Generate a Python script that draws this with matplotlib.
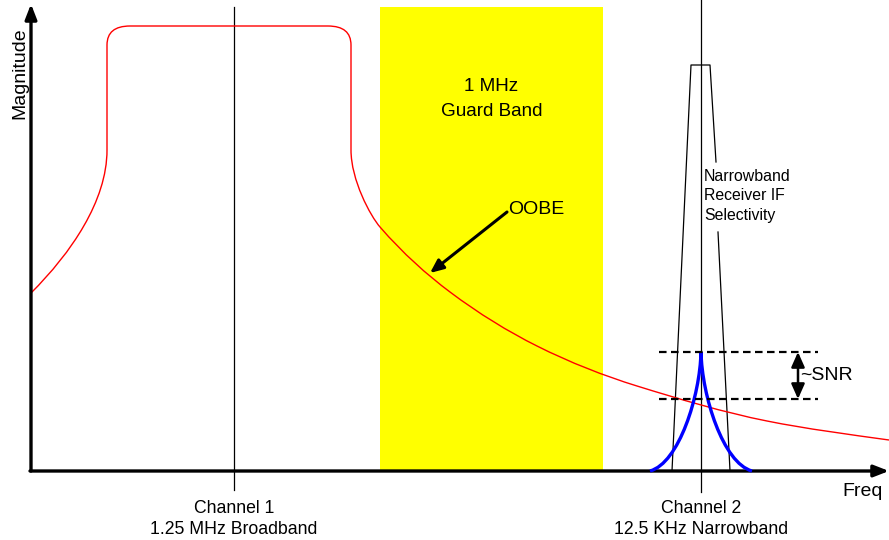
"""Sketch of broadband OOBE falling into a narrowband receiver channel."""
import matplotlib
matplotlib.use("Agg")
import matplotlib.pyplot as plt
from matplotlib.path import Path
from matplotlib.patches import PathPatch

plt.rcParams["font.family"] = ["Liberation Sans", "DejaVu Sans"]

# broadband channel 1 emission: rising skirt, flat top with rounded corners,
# then OOBE tail. Nodes (freq, magnitude).
skirt_freq = [0, 76]
skirt_mag = [178, 321]
top_freq = [76, 99, 297, 320]
top_mag = [426, 445, 445, 426]
tail_freq = [320, 349, 419, 506, 606, 736, 858]
tail_mag = [321, 244, 179, 125, 85, 50, 31]
tail_slope = [None, -1.15, -0.75, -0.5, -0.31, -0.2, -0.14]

# narrowband channel 2 signal (cusp)
blue_freq = [619, 670, 721]
blue_mag = [0, 119, 0]

# receiver IF selectivity trapezoid (right side broken by the label)
if_left_freq = [641, 660, 679, 685]
if_left_mag = [0, 406, 406, 309]
if_right_freq = [687, 699]
if_right_mag = [239, 0]

ch1_freq, ch2_freq = 203, 670
guard_lo, guard_hi = 349, 572
frame_top = 464
sig_level, noise_level = 119, 72
dash_lo, dash_hi = 628, 787
snr_freq = 767


def red_path():
    verts = [(skirt_freq[0], skirt_mag[0]),
             (40, 218), (76, 270), (skirt_freq[1], skirt_mag[1])]
    codes = [Path.MOVETO, Path.CURVE4, Path.CURVE4, Path.CURVE4]
    # vertical edge, rounded corner, flat top, rounded corner, vertical edge
    verts += [(top_freq[0], top_mag[0]),
              (top_freq[0], top_mag[1]), (top_freq[1], top_mag[1]),
              (top_freq[2], top_mag[2]),
              (top_freq[3], top_mag[2]), (top_freq[3], top_mag[3]),
              (tail_freq[0], tail_mag[0])]
    codes += [Path.LINETO, Path.CURVE3, Path.CURVE3, Path.LINETO,
              Path.CURVE3, Path.CURVE3, Path.LINETO]
    for i in range(1, len(tail_freq)):
        x0, y0 = tail_freq[i - 1], tail_mag[i - 1]
        x1, y1 = tail_freq[i], tail_mag[i]
        d = (x1 - x0) / 3
        if tail_slope[i - 1] is None:
            c1 = (x0, y0 - 30)
        else:
            c1 = (x0 + d, y0 + d * tail_slope[i - 1])
        c2 = (x1 - d, y1 - d * tail_slope[i])
        verts += [c1, c2, (x1, y1)]
        codes += [Path.CURVE4] * 3
    return Path(verts, codes)


def blue_path():
    verts = [(blue_freq[0], blue_mag[0]), (648, 8), (669, 75), (blue_freq[1], blue_mag[1]),
             (671, 75), (692, 8), (blue_freq[2], blue_mag[2])]
    codes = [Path.MOVETO] + [Path.CURVE4] * 6
    return Path(verts, codes)


fig = plt.figure(figsize=(8.89, 5.4), dpi=100)
ax = fig.add_axes([0, 0, 1, 1])
ax.set_xlim(-31, 858)
ax.set_ylim(-69, 471)
ax.axis("off")

ax.axvspan(guard_lo, guard_hi, ymin=69 / 540, ymax=(69 + frame_top) / 540,
           color="#ffff00", lw=0, zorder=0)
ax.text((guard_lo + guard_hi) / 2, 372, "1 MHz\nGuard Band", ha="center", va="center",
        fontsize=13.6, linespacing=1.55)

ax.plot([ch1_freq, ch1_freq], [-19, frame_top], color="black", lw=0.9, zorder=2)
ax.plot([ch2_freq, ch2_freq], [-21, 471], color="black", lw=0.9, zorder=2)

ax.add_patch(PathPatch(red_path(), fill=False, edgecolor="red", lw=1.0, zorder=3))
ax.plot(if_left_freq, if_left_mag, color="black", lw=0.9, zorder=2)
ax.plot(if_right_freq, if_right_mag, color="black", lw=0.9, zorder=2)
ax.add_patch(PathPatch(blue_path(), fill=False, edgecolor="#0000ff", lw=2.4, zorder=4))

for lvl in (sig_level, noise_level):
    ax.plot([dash_lo, dash_hi], [lvl, lvl], color="black", lw=1.6,
            dashes=(3.4, 2.0), zorder=5)
ax.annotate("", xy=(snr_freq, noise_level), xytext=(snr_freq, sig_level),
            arrowprops=dict(arrowstyle="<|-|>,head_length=0.9,head_width=0.4",
                            lw=1.8, color="black", shrinkA=0, shrinkB=0))
ax.text(snr_freq + 2, (sig_level + noise_level) / 2, "~SNR", ha="left", va="center",
        fontsize=14)

ax.text(673, 275, "Narrowband\nReceiver IF\nSelectivity", ha="left", va="center",
        fontsize=11.4, linespacing=1.35)

ax.annotate("", xy=(399, 198), xytext=(476, 259),
            arrowprops=dict(arrowstyle="-|>,head_length=0.8,head_width=0.35",
                            lw=2.2, color="black", shrinkA=0, shrinkB=0))
ax.text(477, 262, "OOBE", ha="left", va="center", fontsize=14)

# axes with arrow heads
ax.annotate("", xy=(0, 467), xytext=(0, 0),
            arrowprops=dict(arrowstyle="-|>,head_length=0.9,head_width=0.35",
                            lw=2.4, color="black", shrinkA=0, shrinkB=0))
ax.annotate("", xy=(858, 0), xytext=(-1, 0),
            arrowprops=dict(arrowstyle="-|>,head_length=0.9,head_width=0.35",
                            lw=2.4, color="black", shrinkA=0, shrinkB=0))

ax.text(-11, 398, "Magnitude", rotation=90, ha="center", va="center", fontsize=14)
ax.text(832, -25, "Freq", ha="center", va="baseline", fontsize=14)
ax.text(ch1_freq, -48, "Channel 1\n1.25 MHz Broadband", ha="center", va="center",
        fontsize=12.7, linespacing=1.35)
ax.text(ch2_freq, -48, "Channel 2\n12.5 KHz Narrowband", ha="center", va="center",
        fontsize=12.7, linespacing=1.35)

fig.savefig("out.png", dpi=100)
